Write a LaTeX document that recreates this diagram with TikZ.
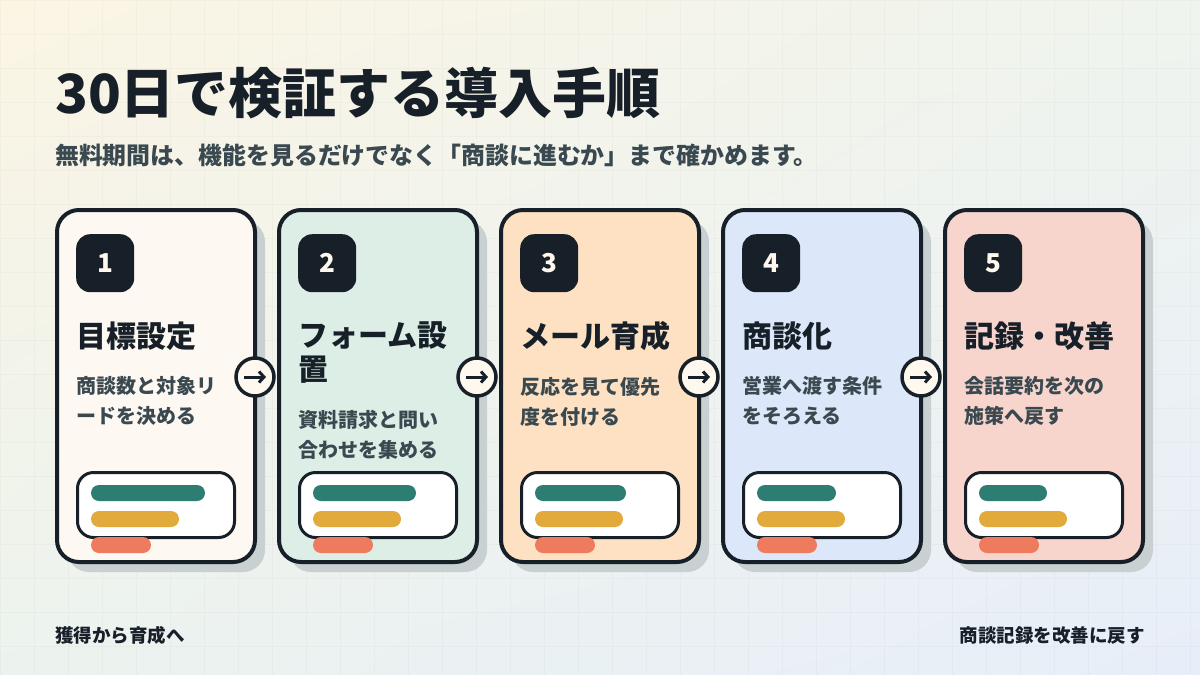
\documentclass[tikz,border=0pt]{standalone}
\usepackage{fontspec}
\setmainfont{Noto Sans CJK JP}
\usetikzlibrary{arrows.meta, positioning, shadows, shadings}

\definecolor{ink}{HTML}{172028}
\definecolor{subink}{HTML}{3A4950}
\definecolor{cream}{HTML}{FFF8EF}
\definecolor{shadowc}{HTML}{C9D0D1}
\definecolor{barteal}{HTML}{2E7D72}
\definecolor{barsun}{HTML}{E2A93B}
\definecolor{barcoral}{HTML}{EF7B5F}
\definecolor{fillone}{HTML}{FDF8F1}
\definecolor{filltwo}{HTML}{DCEEE5}
\definecolor{fillthree}{HTML}{FDE1C2}
\definecolor{fillfour}{HTML}{DCE7F9}
\definecolor{fillfive}{HTML}{F7D5CD}
\definecolor{bgnw}{HTML}{FBF5E4}
\definecolor{bgne}{HTML}{EFF4EE}
\definecolor{bgsw}{HTML}{ECF3EE}
\definecolor{bgse}{HTML}{E8EEF9}

\begin{document}
\begin{tikzpicture}[
    x=1pt, y=-1pt,
    >=Stealth,
    card/.style={draw=ink, line width=4pt, rounded corners=22pt, minimum width=198pt, minimum height=352pt,
        anchor=north west, inner sep=0pt, drop shadow={shadow xshift=10pt, shadow yshift=-10pt, fill=shadowc, opacity=1}},
    badge/.style={fill=ink, rounded corners=14pt, minimum size=58pt, anchor=north west, inner sep=0pt,
        text=cream, font=\fontsize{26}{30}\selectfont\bfseries},
    head/.style={anchor=north west, inner sep=0pt, align=left, text=ink, font=\fontsize{30}{34}\selectfont\bfseries},
    desc/.style={anchor=north west, inner sep=0pt, align=left, text=subink, font=\fontsize{20}{30}\selectfont\bfseries},
    panel/.style={draw=ink, fill=white, line width=3pt, rounded corners=16pt, minimum width=157pt, minimum height=65pt,
        anchor=north west, inner sep=0pt},
    bar/.style={rounded corners=8pt},
    turn/.style={circle, draw=ink, fill=cream, line width=3.5pt, minimum size=38pt, inner sep=0pt},
    turnarrow/.style={draw=ink, line width=3pt, -{Straight Barb[length=5pt, width=11pt]}},
    foot/.style={text=ink, font=\fontsize{18.5}{22}\selectfont\bfseries},
]
\useasboundingbox (0,0) rectangle (1200,675);
% ----- background
\shade[upper left=bgnw, upper right=bgne, lower left=bgsw, lower right=bgse] (0,0) rectangle (1200,675);
\draw[step=34pt, black, opacity=0.022, line width=1pt] (0,0) grid (1200,675);
% ----- heading
\node[anchor=base west, inner sep=0pt, text=ink, font=\fontsize{54}{60}\selectfont\bfseries] (title) at (55,113) {30日で検証する導入手順};
\node[anchor=base west, inner sep=0pt, text=subink, font=\fontsize{23.9}{28}\selectfont\bfseries] (lead) at (55,164)
    {無料期間は、機能を見るだけでなく「商談に進むか」まで確かめます。};
% ----- step 1
\begin{scope}
\node[card, fill=fillone] (card1) at (55,208) {};
\node[badge] (badge1) at (76,234) {1};
\node[head, below=29pt of badge1.south west, anchor=north west] (head1) {目標設定};
\node[desc, below=26pt of head1.south west, anchor=north west] (desc1) {商談数と対象リ\\ードを決める};
\node[panel] (panel1) at (76,471) {};
\fill[barteal, bar] (91,485) rectangle +(114,16);
\fill[barsun, bar] (91,511) rectangle +(88,16);
\fill[barcoral, bar] (91,537) rectangle +(60,16);
\end{scope}
% ----- step 2
\begin{scope}[xshift=222pt]
\node[card, fill=filltwo] (card2) at (55,208) {};
\node[badge] (badge2) at (76,234) {2};
\node[head, below=29pt of badge2.south west, anchor=north west] (head2) {フォーム設\\置};
\node[desc, below=26pt of head2.south west, anchor=north west] (desc2) {資料請求と問い\\合わせを集める};
\node[panel] (panel2) at (76,471) {};
\fill[barteal, bar] (91,485) rectangle +(103,16);
\fill[barsun, bar] (91,511) rectangle +(88,16);
\fill[barcoral, bar] (91,537) rectangle +(60,16);
\end{scope}
% ----- step 3
\begin{scope}[xshift=444pt]
\node[card, fill=fillthree] (card3) at (55,208) {};
\node[badge] (badge3) at (76,234) {3};
\node[head, below=29pt of badge3.south west, anchor=north west] (head3) {メール育成};
\node[desc, below=26pt of head3.south west, anchor=north west] (desc3) {反応を見て優先\\度を付ける};
\node[panel] (panel3) at (76,471) {};
\fill[barteal, bar] (91,485) rectangle +(91,16);
\fill[barsun, bar] (91,511) rectangle +(88,16);
\fill[barcoral, bar] (91,537) rectangle +(60,16);
\end{scope}
% ----- step 4
\begin{scope}[xshift=666pt]
\node[card, fill=fillfour] (card4) at (55,208) {};
\node[badge] (badge4) at (76,234) {4};
\node[head, below=29pt of badge4.south west, anchor=north west] (head4) {商談化};
\node[desc, below=26pt of head4.south west, anchor=north west] (desc4) {営業へ渡す条件\\をそろえる};
\node[panel] (panel4) at (76,471) {};
\fill[barteal, bar] (91,485) rectangle +(79,16);
\fill[barsun, bar] (91,511) rectangle +(88,16);
\fill[barcoral, bar] (91,537) rectangle +(60,16);
\end{scope}
% ----- step 5
\begin{scope}[xshift=888pt]
\node[card, fill=fillfive] (card5) at (55,208) {};
\node[badge] (badge5) at (76,234) {5};
\node[head, below=29pt of badge5.south west, anchor=north west] (head5) {記録・改善};
\node[desc, below=26pt of head5.south west, anchor=north west] (desc5) {会話要約を次の\\施策へ戻す};
\node[panel] (panel5) at (76,471) {};
\fill[barteal, bar] (91,485) rectangle +(68,16);
\fill[barsun, bar] (91,511) rectangle +(88,16);
\fill[barcoral, bar] (91,537) rectangle +(60,16);
\end{scope}
% ----- hand-over circles
\node[turn] (turn1) at (255,377) {};
\node[turn] (turn2) at (477,377) {};
\node[turn] (turn3) at (699,377) {};
\node[turn] (turn4) at (921,377) {};
\draw[turnarrow] ([xshift=-11pt]turn1.center) -- ([xshift=11pt]turn1.center);
\draw[turnarrow] ([xshift=-11pt]turn2.center) -- ([xshift=11pt]turn2.center);
\draw[turnarrow] ([xshift=-11pt]turn3.center) -- ([xshift=11pt]turn3.center);
\draw[turnarrow] ([xshift=-11pt]turn4.center) -- ([xshift=11pt]turn4.center);
% ----- footer
\node[foot, anchor=base west, inner sep=0pt] (footleft) at (55,642) {獲得から育成へ};
\node[foot, anchor=base east, inner sep=0pt] (footright) at (1145,642) {商談記録を改善に戻す};
\end{tikzpicture}
\end{document}
